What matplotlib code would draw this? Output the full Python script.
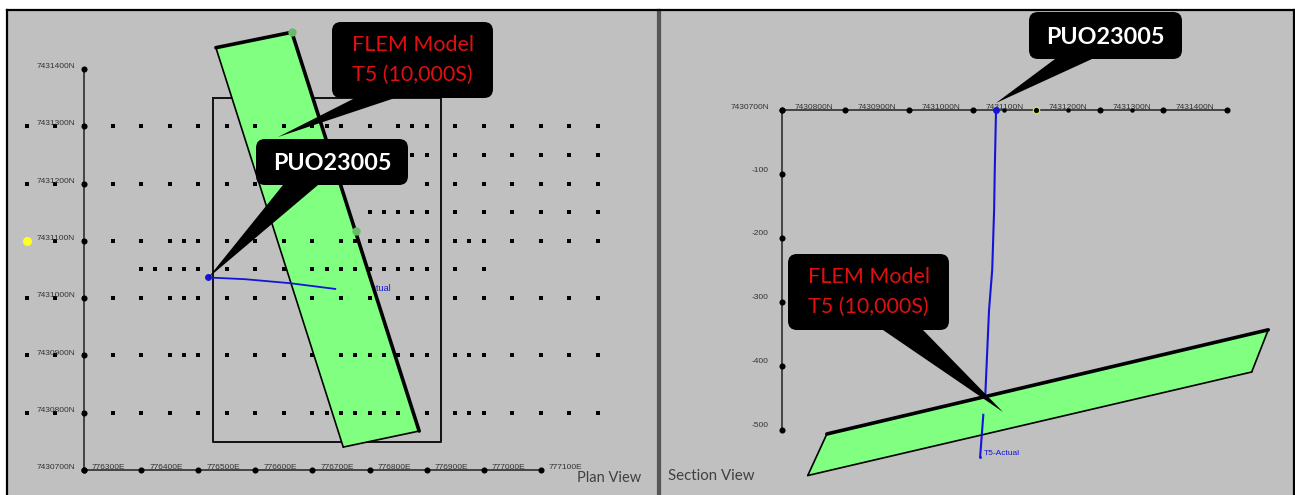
import matplotlib
matplotlib.use("Agg")
import matplotlib.pyplot as plt
from matplotlib.patches import FancyBboxPatch, Polygon

W, H = 1295, 495
BG = '#c0c0c0'
GREEN = '#80ff80'
BLUE = '#1414d8'
LABEL = '#333333'

# plan view, drill collars by northing (eastings in metres)
base = 776000
row_7431300 = [200, 250, 300, 350, 400, 450, 500, 550, 600, 650, 700, 725, 750, 800, 850, 875, 900, 950, 1000, 1050, 1100, 1150, 1200]
row_7431250 = [875, 900, 950, 1000, 1050, 1100, 1150, 1200]
row_7431200 = [200, 250, 300, 350, 400, 450, 500, 550, 600, 900, 950, 1000, 1050, 1100, 1150, 1200]
row_7431150 = [800, 825, 850, 875, 900, 950, 1000, 1050, 1100, 1150, 1200]
row_7431100 = [250, 300, 350, 400, 450, 475, 500, 550, 600, 650, 700, 750, 775, 800, 825, 850, 875, 900, 950, 975, 1000, 1050, 1100, 1150, 1200]
row_7431050 = [400, 425, 450, 475, 500, 550, 600, 650, 700, 725, 750, 775, 800, 825, 850, 875, 900, 950, 1000]
row_7431000 = [200, 250, 300, 350, 400, 450, 475, 500, 550, 600, 650, 700, 750, 800, 850, 875, 900, 950, 1000, 1050, 1100, 1150, 1200]
row_7430900 = [200, 250, 300, 350, 400, 450, 475, 500, 550, 600, 650, 700, 750, 775, 800, 825, 850, 875, 900, 950, 975, 1000, 1050, 1100, 1150, 1200]
row_7430800 = [200, 250, 300, 350, 400, 450, 500, 550, 600, 650, 700, 725, 750, 775, 800, 825, 850, 900, 950, 975, 1000, 1050, 1100, 1150, 1200]
rows = {7431300: row_7431300, 7431250: row_7431250, 7431200: row_7431200,
        7431150: row_7431150, 7431100: row_7431100, 7431050: row_7431050,
        7431000: row_7431000, 7430900: row_7430900, 7430800: row_7430800}

east_ticks = [776300, 776400, 776500, 776600, 776700, 776800, 776900, 777000, 777100]
north_ticks = [7430700, 7430800, 7430900, 7431000, 7431100, 7431200, 7431300, 7431400]
depth_ticks = [0, -100, -200, -300, -400, -500]

plate_e = [776531, 776664, 776887, 776754]
plate_n = [7431437, 7431464, 7430768, 7430740]
hole_e = [776517, 776582, 776661, 776740]
hole_n = [7431036, 7431033, 7431026, 7431016]
box_e = [776526, 776926, 776926, 776526, 776526]
box_n = [7431349, 7431349, 7430749, 7430749, 7431349]
plate_pts_e = [776664, 776776]
plate_pts_n = [7431464, 7431117]

# section view
sec_plate_n = [7430771, 7431465, 7431439, 7430741]
sec_plate_z = [-507, -344, -410, -572]
sec_hole_n = [7431037, 7431035, 7431034, 7431031, 7431026, 7431020]
sec_hole_z = [0, -94, -156, -250, -313, -449]
sec_hole2_n = [7431017, 7431012]
sec_hole2_z = [-477, -543]
sec_extra_n = [7431050, 7431150, 7431250]

fig = plt.figure(figsize=(W / 100, H / 100), dpi=100, facecolor='white')
plt.rcParams['font.family'] = ['Liberation Sans', 'DejaVu Sans']


def make_panel(x0, x1, y0, y1, v0, px0, sx, w0, py0, sy):
    # panel in pixels, limits worked out from where two ticks sit
    ax = fig.add_axes([x0 / W, 1 - y1 / H, (x1 - x0) / W, (y1 - y0) / H])
    ax.set_facecolor(BG)
    ax.set_xlim(v0 + (x0 - px0) / sx, v0 + (x1 - px0) / sx)
    ax.set_ylim(w0 + (py0 - y1) / sy, w0 + (py0 - y0) / sy)
    ax.set_xticks([])
    ax.set_yticks([])
    for s in ax.spines.values():
        s.set_linewidth(1.6)
    ax.spines['bottom'].set_visible(False)
    return ax


def outline(ax, xs, ys, thick):
    for i in range(4):
        j = (i + 1) % 4
        lw = 2.6 if i in thick else 1.2
        ax.plot([xs[i], xs[j]], [ys[i], ys[j]], color='black', lw=lw, zorder=4, solid_capstyle='round')


# plan
ax1 = make_panel(7, 658, 10, 495, 776300, 84, 0.571, 7430700, 470, 0.573)
ax1.spines['right'].set_color('#555555')
ax1.plot(box_e, box_n, color='#111111', lw=1.4, zorder=2)
ax1.plot([east_ticks[0], east_ticks[-1]], [north_ticks[0]] * 2, color='#222222', lw=1.1, zorder=2)
ax1.plot([east_ticks[0]] * 2, [north_ticks[0], north_ticks[-1]], color='#222222', lw=1.1, zorder=2)
ax1.text(776838, 7431016, 'T5-Actual', color=BLUE, fontsize=6.5, ha='right', va='center', zorder=1)
ax1.fill(plate_e, plate_n, color=GREEN, lw=0, zorder=3)
outline(ax1, plate_e, plate_n, thick=[0, 1])
ax1.plot(plate_pts_e, plate_pts_n, 'o', color='#66bb66', ms=6, mew=0, zorder=5)
ax1.plot(hole_e, hole_n, color=BLUE, lw=1.3, zorder=5)
ax1.plot(hole_e[0], hole_n[0], 'o', color=BLUE, ms=5, mew=0, zorder=6)
for north, easts in rows.items():
    ax1.plot([base + e for e in easts], [north] * len(easts), 's', color='black', ms=2.8, mew=0, zorder=5)
ax1.plot(776200, 7431100, 'o', color='#ffff20', ms=6.5, mew=0, zorder=5)
ax1.plot(east_ticks, [north_ticks[0]] * len(east_ticks), 'o', color='black', ms=4.4, mew=0, zorder=5)
ax1.plot([east_ticks[0]] * len(north_ticks), north_ticks, 'o', color='black', ms=4.4, mew=0, zorder=5)
for e in east_ticks:
    ax1.text(e + 14, north_ticks[0] + 4, '%dE' % e, fontsize=6, color=LABEL, ha='left', va='center', zorder=6)
for n in north_ticks:
    ax1.text(776284, n + 4, '%dN' % n, fontsize=6, color=LABEL, ha='right', va='center', zorder=6)

# section
ax2 = make_panel(660, 1294, 10, 495, 7430700, 781.7, 0.636, 0, 110, 0.639)
ax2.spines['left'].set_color('#555555')
ax2.plot([north_ticks[0], north_ticks[-1]], [0, 0], color='#222222', lw=1.1, zorder=2)
ax2.plot([north_ticks[0]] * 2, [depth_ticks[0], depth_ticks[-1]], color='#222222', lw=1.1, zorder=2)
ax2.plot(north_ticks, [0] * len(north_ticks), 'o', color='black', ms=4.4, mew=0, zorder=5)
ax2.plot(sec_extra_n, [0] * len(sec_extra_n), 'o', color='black', ms=3.2, mew=0, zorder=5)
ax2.plot(7431100, 0, 'o', mfc='black', mec='#e8e840', ms=4.6, mew=0.8, zorder=6)
ax2.plot([north_ticks[0]] * len(depth_ticks), depth_ticks, 'o', color='black', ms=4.4, mew=0, zorder=5)
for n in north_ticks[1:]:
    ax2.text(n - 50, 4, '%dN' % n, fontsize=6, color=LABEL, ha='center', va='center', zorder=6)
ax2.text(7430680, 4, '7430700N', fontsize=6, color=LABEL, ha='right', va='center', zorder=6)
for z in depth_ticks[1:]:
    ax2.text(7430680, z + 6, '%d' % z, fontsize=6, color=LABEL, ha='right', va='center', zorder=6)
ax2.fill(sec_plate_n, sec_plate_z, color=GREEN, lw=0, zorder=3)
outline(ax2, sec_plate_n, sec_plate_z, thick=[0])
ax2.plot(sec_hole_n, sec_hole_z, color=BLUE, lw=1.5, zorder=5)
ax2.plot(sec_hole2_n, sec_hole2_z, color=BLUE, lw=1.5, zorder=5)
ax2.plot(sec_hole_n[0], sec_hole_z[0], 'o', color=BLUE, ms=5, mew=0, zorder=6)
ax2.plot(sec_hole2_n[-1], sec_hole2_z[-1], 'o', color=BLUE, ms=2, mew=0, zorder=6)
ax2.text(sec_hole2_n[-1] + 6, sec_hole2_z[-1] + 5, 'T5-Actual', color=BLUE, fontsize=6, ha='left', va='center', zorder=6)

# overlay in image pixels for the slide callouts
over = fig.add_axes([0, 0, 1, 1], facecolor='none')
over.set_xlim(0, W)
over.set_ylim(H, 0)
over.axis('off')


def callout(x0, y0, x1, y1, base_a, base_b, tip, lines, color, weight, size, base_y, dy=0):
    over.add_patch(FancyBboxPatch((x0 + 9, y0 + 9), x1 - x0 - 18, y1 - y0 - 18,
                                  boxstyle='round,pad=9,rounding_size=9', fc='black', ec='none', zorder=10))
    over.add_patch(Polygon([(base_a, base_y), (base_b, base_y), tip], closed=True, fc='black', ec='none', zorder=9))
    step = (y1 - y0) / (len(lines) + 0.55)
    for i, t in enumerate(lines):
        yc = (y0 + y1) / 2 + (i - (len(lines) - 1) / 2) * step + dy
        over.text((x0 + x1) / 2, yc, t, color=color, fontsize=size, fontweight=weight,
                  ha='center', va='center', family=['Lato', 'DejaVu Sans'], zorder=11)


RED = '#e01010'
flem = ['FLEM Model', 'T5 (10,000S)']
callout(332, 22, 493, 98, 355, 395, (278, 137), flem, RED, 'normal', 15.5, 98)
callout(256, 139, 408, 185, 283, 318, (208, 278), ['PUO23005'], 'white', 'bold', 16.8, 185, dy=2)
callout(1029, 12, 1182, 59, 1055, 1092, (996, 103), ['PUO23005'], 'white', 'bold', 16.8, 59, dy=2)
callout(788, 254, 949, 330, 883, 923, (1003, 412), flem, RED, 'normal', 15.5, 330)

over.text(577, 478, 'Plan View', color='#404040', fontsize=10.5, ha='left', va='center', family=['Lato', 'DejaVu Sans'])
over.text(668, 476, 'Section View', color='#404040', fontsize=10.8, ha='left', va='center', family=['Lato', 'DejaVu Sans'])

fig.savefig('out.png', dpi=100, facecolor='white')
